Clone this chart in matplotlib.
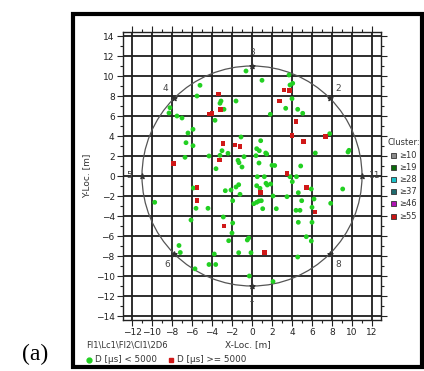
import matplotlib
matplotlib.use("Agg")
import matplotlib.pyplot as plt
from matplotlib.patches import Circle, Rectangle
from matplotlib.lines import Line2D
from matplotlib.ticker import MultipleLocator

# Event locations, duration below 5000 us
green_x = [-0.6, -5.2, -5.5, -3.1, -3.2, -1.6, -2.8, -8.2, -8.3, -7.5, -7.0, -3.7, -5.9, -6.4,
           -1.1, -6.6, -5.9, -3.0, -2.4, -4.3, -3.2, -6.7, -0.8, -1.4, -1.3, -1.0, -3.6,
           1.0, 3.7, 4.07, 3.8, 4.0, 3.37, 4.57, 5.07, 1.83, 7.77, 0.87, 0.47, 0.73, 1.37,
           1.47, 0.4, 9.7, 9.6, 6.33, 0.7, 2.0, 2.27, 4.87, 0.53, 1.23, 3.8, 4.45,
           -5.87, -9.73, -5.6, -4.4, -6.1, -2.67, -2.1, -1.6, -1.33, -1.2, -1.93, 0.18,
           -2.87, -1.93, -2.0, -2.33, -0.47, -0.33, -7.3, -7.17, -1.33, -0.1, -3.77, -4.3,
           -3.63, -5.7, -0.27,
           0.47, 1.4, 1.53, 1.87, 4.03, 0.8, 4.63, 2.1, 3.5, 5.93, 9.07, 0.47, 0.7, 0.93,
           1.07, 2.43, 4.97, 6.2, 7.87, 4.4, 4.8, 6.0, 4.63, 6.0, 5.43, 5.93, 4.57, 2.1]
green_y = [10.5, 9.07, 8.0, 7.5, 7.27, 7.5, 6.67, 6.83, 6.3, 6.0, 5.8, 5.57, 4.67, 4.3,
           3.9, 3.33, 3.03, 2.53, 2.27, 2.0, 2.07, 1.87, 1.93, 1.57, 1.33, 0.9, 0.73,
           9.57, 10.1, 9.27, 9.1, 7.73, 6.77, 6.67, 6.27, 6.17, 4.23, 3.53, 2.73, 2.53, 2.3,
           2.2, 2.03, 2.57, 2.4, 2.3, 1.3, 1.07, 1.05, 1.0, -0.07, -0.07, -0.07, -0.07,
           -1.2, -2.63, -3.23, -3.23, -4.4, -1.47, -1.4, -1.1, -0.87, -1.83, -2.47, -2.77,
           -4.1, -4.7, -5.7, -6.47, -6.4, -6.2, -6.95, -7.65, -7.67, -7.67, -7.8, -8.85,
           -8.85, -9.28, -10.0,
           -0.97, -0.73, -0.9, -0.8, -0.57, -1.23, -1.67, -2.0, -2.07, -1.3, -1.3, -2.63, -2.5, -2.47,
           -3.27, -3.27, -2.47, -2.3, -2.73, -3.43, -3.43, -3.13, -4.63, -4.63, -6.07, -6.5, -8.1, -10.55]

# Event locations, duration of 5000 us or more
red_x = [-3.33, -3.15, -4.27, -4.0, -2.9, -1.7, -1.2, -3.27, -7.87, 3.2, 3.75, 2.73,
         4.4, 4.0, 5.17, 7.37, 3.5, -5.5, -5.5, -2.8, 0.82, 5.42, 6.3, 1.23]
red_y = [8.2, 6.63, 6.2, 6.27, 3.27, 3.1, 2.93, 1.6, 1.25, 8.6, 8.52, 7.5,
         5.45, 4.03, 3.45, 3.93, 0.22, -1.13, -2.47, -5.0, -1.67, -1.18, -3.6, -7.62]

# Sensor positions on the ring
sensor_ids = ["1", "2", "3", "4", "5", "6", "8", "11"]
sensor_x = [0.0, 7.78, 0.0, -7.78, -11.0, -7.78, 7.78, 11.0]
sensor_y = [-11.0, 7.78, 11.0, 7.78, 0.0, -7.78, -7.78, 0.0]
ring_radius = 11.0

x_ticks = list(range(-12, 13, 2))
y_ticks = list(range(-14, 15, 2))

cluster_labels = ["≥10", "≥19", "≥28", "≥37", "≥46", "≥55"]
cluster_colors = ["#8a8a8a", "#0a6a0a", "#19c0c8", "#1f6a6e", "#b014b4", "#c81414"]

W, H = 424, 371
fig = plt.figure(figsize=(W / 100, H / 100), dpi=100)
fig.patch.set_facecolor("white")


def fx(px):
    return px / W


def fy(py):
    return 1 - py / H


ax = fig.add_axes([fx(123), fy(320), (381 - 123) / W, (320 - 32) / H])
ax.set_xlim(-12.9, 12.9)
ax.set_ylim(-14.4, 14.4)
ax.set_xticks(x_ticks)
ax.set_yticks(y_ticks)
ax.xaxis.set_minor_locator(MultipleLocator(1))
ax.yaxis.set_minor_locator(MultipleLocator(1))
ax.tick_params(which="both", top=True, right=True, direction="out",
               labelsize=6.5, labelcolor="#222222", color="#222222", width=0.8)
ax.tick_params(which="major", length=4, pad=2)
ax.tick_params(which="minor", length=2)
ax.grid(which="major", color="#1e1e1e", lw=1.3)
ax.set_axisbelow(True)
for s in ax.spines.values():
    s.set_color("#222222")
    s.set_linewidth(1.0)

# sensor ring
ax.add_patch(Circle((0, 0), ring_radius, fill=False, ec="#555555", lw=0.9, zorder=3))
ax.scatter(sensor_x, sensor_y, marker="*", s=14, color="#333333", zorder=4)
label_offsets = {"1": (0, -10), "2": (6, 7), "3": (0, 10), "4": (-6, 7),
                 "5": (-9, 0), "6": (-5, -8), "8": (6, -8), "11": (9, 0)}
for sid, sx, sy in zip(sensor_ids, sensor_x, sensor_y):
    ax.annotate(sid, (sx, sy), xytext=label_offsets[sid], textcoords="offset points",
                ha="center", va="center", fontsize=6.5, color="#444444", zorder=5)

ax.scatter(green_x, green_y, marker="o", s=12, color="#22d022", edgecolors="none", zorder=6)
ax.scatter(red_x, red_y, marker="s", s=12, color="#d01818", edgecolors="none", zorder=7)

ax.set_ylabel("Y-Loc. [m]", fontsize=6.5, color="#333333", labelpad=3)
ax.set_xlabel("")
fig.text(fx(248), fy(345), "X-Loc. [m]", fontsize=6.5, color="#333333", ha="center", va="center")
fig.text(fx(86), fy(345), r"Fl1\Lc1\Fl2\Cl1\2D6", fontsize=6.0, color="#333333",
         ha="left", va="center")

# bottom legend
fig.add_artist(Line2D([fx(89)], [fy(360)], marker="o", ms=3.5, color="#22d022",
                      lw=0, transform=fig.transFigure))
fig.text(fx(95), fy(360), "D [µs] < 5000", fontsize=6.3, color="#333333", ha="left", va="center")
fig.add_artist(Line2D([fx(171)], [fy(360)], marker="s", ms=3.2, color="#d01818",
                      lw=0, transform=fig.transFigure))
fig.text(fx(177), fy(360), "D [µs] >= 5000", fontsize=6.3, color="#333333", ha="left", va="center")

# cluster legend
fig.text(fx(387), fy(143), "Cluster:", fontsize=6.0, color="#333333", ha="left", va="center")
for i, (lab, col) in enumerate(zip(cluster_labels, cluster_colors)):
    yy = 155 + i * 12.2
    fig.add_artist(Rectangle((fx(391), fy(yy + 2.5)), 5 / W, 5 / H, fc=col, ec="#333333",
                             lw=0.6, transform=fig.transFigure))
    fig.text(fx(399), fy(yy), lab, fontsize=6.0, color="#333333", ha="left", va="center")

# outer frame
fig.add_artist(Rectangle((fx(73), fy(367)), (422 - 73) / W, (367 - 14) / H, fill=False,
                         ec="black", lw=3, transform=fig.transFigure))

fig.text(fx(35), fy(354), "(a)", fontsize=17, family="Liberation Serif", ha="center",
         va="center", color="black")

fig.savefig("out.png", dpi=100)
